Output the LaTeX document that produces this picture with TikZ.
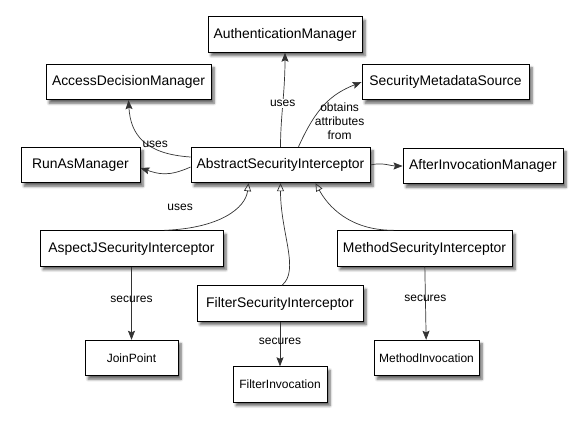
\documentclass[tikz,border=0pt]{standalone}
\usepackage{fontspec}
\setmainfont{Liberation Sans}
\usetikzlibrary{arrows.meta,shadows.blur}
\tikzset{
  box/.style = {draw = black, line width = 0.9pt, fill = white, rectangle, minimum height = 35.5pt, inner sep = 0pt, font = \fontsize{13.9}{16}\selectfont, blur shadow = {shadow xshift = 3pt, shadow yshift = -3.5pt, shadow blur steps = 6, shadow blur radius = 2.5pt, shadow opacity = 60}},
  smallbox/.style = {box, font = \fontsize{12}{14}\selectfont},
  uses/.style = {draw = black!80, line width = 0.7pt, -{Stealth[length = 9pt, width = 7pt, inset = 1.5pt]}},
  extends/.style = {draw = black!80, line width = 0.7pt, -{Triangle[open, length = 8pt, width = 7pt]}},
  lbl/.style = {font = \fontsize{12}{14}\selectfont, inner sep = 1pt}
}
\begin{document}
\begin{tikzpicture}[x = 1pt, y = -1pt]
\useasboundingbox (0,0) rectangle (582,426);
\foreach \n/\x/\y/\w/\t in {am/285/34.5/154pt/AuthenticationManager, adm/128.5/82/165pt/AccessDecisionManager, runas/80.5/165/119pt/RunAsManager, asi/280.5/165/179pt/AbstractSecurityInterceptor, sms/445.5/82/167pt/SecurityMetadataSource, aim/483/166/160pt/AfterInvocationManager, aspectj/131.5/248.5/183pt/AspectJSecurityInterceptor, filter/280/303.5/166pt/FilterSecurityInterceptor, method/424.5/248.5/175pt/MethodSecurityInterceptor}
  \node[box, minimum width = \w] (\n) at (\x,\y) {\t};
\foreach \n/\x/\y/\w/\t in {joinpoint/131.5/358/93pt/JoinPoint, filterinv/280/384.5/94pt/FilterInvocation, methodinv/426.5/358/105pt/MethodInvocation}
  \node[smallbox, minimum width = \w] (\n) at (\x,\y) {\t};
\draw[uses] (asi.north) .. controls +(0,-30) and +(0,40) .. node[lbl, fill = white] {uses} (am.south);
\draw[uses] ([yshift = 8pt]asi.west) .. controls +(-45,-3) and +(2,35) .. node[lbl, pos = 0.33, anchor = south] {uses} (adm.south);
\draw[uses] ([yshift = -2pt]asi.west) .. controls +(-22,10) and +(18,6) .. ([yshift = -3pt]runas.east);
\draw[uses] ([xshift = 18pt]asi.north) .. controls +(18,-40) and +(-30,12) .. node[lbl, align = center, pos = 0.45, xshift = 17pt, yshift = -14pt] {obtains\\attributes\\from} (sms.west);
\draw[uses] (asi.east) .. controls +(12,-3) and +(-12,0) .. (aim.west);
\draw[extends] ([xshift = 33pt]aspectj.north) .. controls +(55,-2) and +(-3,25) .. node[lbl, pos = 0.1, yshift = 22pt] {uses} ([xshift = -32pt]asi.south);
\draw[extends] ([xshift = 2pt]filter.north) .. controls +(18,-15) and +(0,50) .. (asi.south);
\draw[extends] ([xshift = -31pt]method.north) .. controls +(-45,0) and +(12,22) .. ([xshift = 35pt]asi.south);
\foreach \a/\b/\p in {aspectj/joinpoint/0.45, filter/filterinv/0.45, method/methodinv/0.43}
  \draw[uses] (\a) -- node[lbl, pos = \p] {secures} (\b);
\end{tikzpicture}
\end{document}
